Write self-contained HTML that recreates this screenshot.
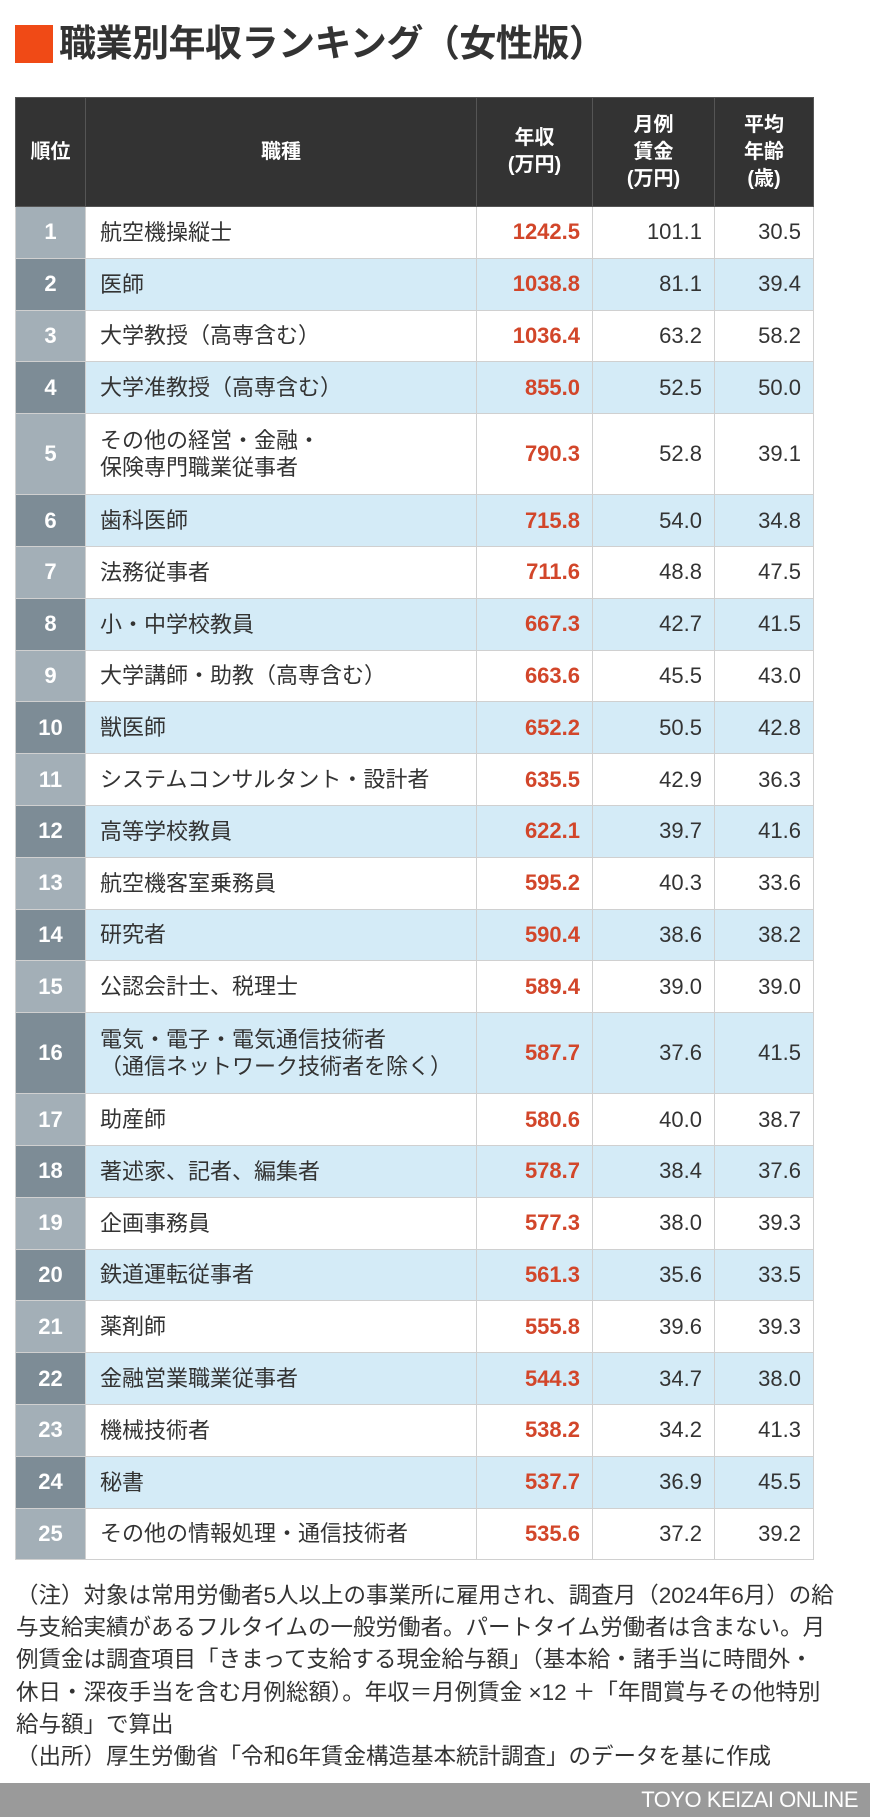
<!DOCTYPE html>
<html><head><meta charset="utf-8"><style>
*{margin:0;padding:0;box-sizing:border-box}
body{width:870px;height:1817px;background:#fff;font-family:"Liberation Sans","Noto Sans CJK JP",sans-serif;color:#333;position:relative;overflow:hidden}
#sq{position:absolute;left:15px;top:25px;width:38px;height:38px;background:#f04a16}
#title{position:absolute;left:59px;top:20px;font-size:37px;font-weight:bold;line-height:48px;color:#333;white-space:nowrap;letter-spacing:-0.5px}
table{position:absolute;left:15px;top:97px;width:798px;border-collapse:collapse;table-layout:fixed}
th{background:#333;color:#fff;font-weight:bold;font-size:20px;line-height:27px;height:109px;border:1px solid #555;text-align:center}
td{border:1px solid #d0d0d0;font-size:21px;height:51.8px;padding:0}
td.rk{color:#fff;font-weight:bold;text-align:center;background:#a3afb7;border-color:#d0d0d0;font-size:22px}
tr.e td{background:#d4ebf7}
tr.e td.rk{background:#7d8c96}
td.nm{padding-left:14px;line-height:27px;font-size:22px}
td.n{text-align:right;padding-right:12px;font-size:22px}
td.inc{color:#d2462a;font-weight:bold}
tr.d td{height:81px}
#notes{position:absolute;left:16px;top:1580px;width:850px;font-size:22.5px;line-height:32.2px;color:#333;white-space:nowrap}
#foot{position:absolute;left:0;top:1783px;width:870px;height:34px;background:#9a9a9a}
#foot span{position:absolute;right:12px;top:4px;color:#fff;font-size:22px;letter-spacing:-0.5px}
</style></head><body>
<div id="sq"></div>
<div id="title">職業別年収ランキング（女性版）</div>
<table>
<colgroup><col style="width:70px"><col style="width:391px"><col style="width:116px"><col style="width:122px"><col style="width:99px"></colgroup>
<thead><tr>
<th>順位</th>
<th>職種</th>
<th>年収<br>(万円)</th>
<th>月例<br>賃金<br>(万円)</th>
<th>平均<br>年齢<br>(歳)</th>
</tr></thead>
<tbody id="tb"></tbody>
</table>
<div id="notes">（注）対象は常用労働者5人以上の事業所に雇用され、調査月（2024年6月）の給<br>与支給実績があるフルタイムの一般労働者。パートタイム労働者は含まない。月<br>例賃金は調査項目「きまって支給する現金給与額」（基本給・諸手当に時間外・<br>休日・深夜手当を含む月例総額）。年収＝月例賃金 ×12 ＋「年間賞与その他特別<br>給与額」で算出<br>（出所）厚生労働省「令和6年賃金構造基本統計調査」のデータを基に作成</div>
<div id="foot"><span>TOYO KEIZAI ONLINE</span></div>
<script>
const occupations=["航空機操縦士","医師","大学教授（高専含む）","大学准教授（高専含む）","その他の経営・金融・<br>保険専門職業従事者","歯科医師","法務従事者","小・中学校教員","大学講師・助教（高専含む）","獣医師","システムコンサルタント・設計者","高等学校教員","航空機客室乗務員","研究者","公認会計士、税理士","電気・電子・電気通信技術者<br>（通信ネットワーク技術者を除く）","助産師","著述家、記者、編集者","企画事務員","鉄道運転従事者","薬剤師","金融営業職業従事者","機械技術者","秘書","その他の情報処理・通信技術者"];
const incomes=["1242.5","1038.8","1036.4","855.0","790.3","715.8","711.6","667.3","663.6","652.2","635.5","622.1","595.2","590.4","589.4","587.7","580.6","578.7","577.3","561.3","555.8","544.3","538.2","537.7","535.6"];
const wages=["101.1","81.1","63.2","52.5","52.8","54.0","48.8","42.7","45.5","50.5","42.9","39.7","40.3","38.6","39.0","37.6","40.0","38.4","38.0","35.6","39.6","34.7","34.2","36.9","37.2"];
const ages=["30.5","39.4","58.2","50.0","39.1","34.8","47.5","41.5","43.0","42.8","36.3","41.6","33.6","38.2","39.0","41.5","38.7","37.6","39.3","33.5","39.3","38.0","41.3","45.5","39.2"];
const tb=document.getElementById('tb');
for(let i=0;i<occupations.length;i++){
  const tr=document.createElement('tr');
  
  
  let cls=(i%2===1)?'e':'';
  if(occupations[i].indexOf('<br>')>=0) cls+=' d';
  tr.className=cls;
  const cells=[[String(i+1),'rk','rank-cell'],[occupations[i],'nm','occupation-cell'],[incomes[i],'n inc','income-cell'],[wages[i],'n','wage-cell'],[ages[i],'n','age-cell']];
  for(const c of cells){
    const td=document.createElement('td');
    td.className=c[1];
    td.innerHTML=c[0];
    
    
    tr.appendChild(td);
  }
  tb.appendChild(tr);
}
</script>
</body></html>
